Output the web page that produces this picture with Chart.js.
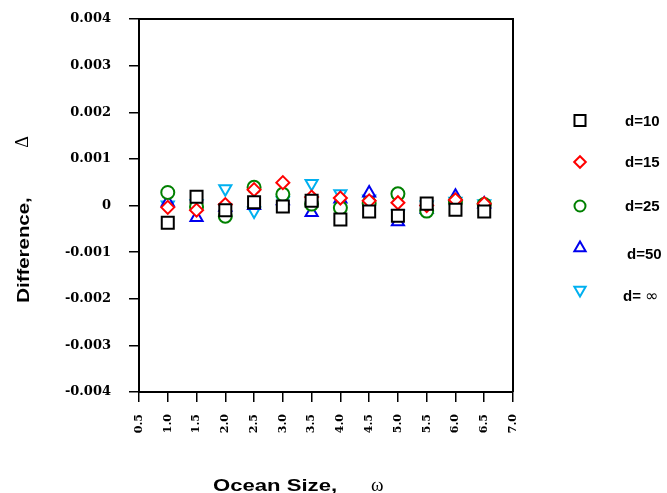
<!DOCTYPE html>
<html>
<head>
<meta charset="utf-8">
<script src="https://cdn.jsdelivr.net/npm/chart.js@4/dist/chart.umd.min.js"></script>
<style>
  html, body { margin: 0; padding: 0; background: #fff; }
  #wrap { width: 667px; height: 493px; }
</style>
</head>
<body>
<div id="wrap"><canvas id="c" width="667" height="493"></canvas></div>
<script>
// Ocean size (x) and difference values per depth series
const omega = [1.0, 1.5, 2.0, 2.5, 3.0, 3.5, 4.0, 4.5, 5.0, 5.5, 6.0, 6.5];
const d10  = [-0.00037, 0.00019, -0.00010, 0.00007, -0.00002, 0.00010, -0.00030, -0.00013, -0.00022, 0.00004, -0.00009, -0.00013];
const d15  = [-0.00004, -0.00010, 0.00002, 0.00034, 0.00049, 0.00018, 0.00016, 0.00010, 0.00006, 0.00000, 0.00012, 0.00004];
const d25  = [0.00028, -0.00003, -0.00023, 0.00039, 0.00024, 0.00003, -0.00005, 0.00005, 0.00025, -0.00012, 0.00008, 0.00002];
const d50  = [0.00007, -0.00026, -0.00004, 0.00000, 0.00010, -0.00015, 0.00014, 0.00027, -0.00035, -0.00008, 0.00020, 0.00003];
const dInf = [0.00001, 0.00004, 0.00036, -0.00012, 0.00010, 0.00047, 0.00025, 0.00014, -0.00018, 0.00001, 0.00009, 0.00004];

const seriesLabels = ['d=10', 'd=15', 'd=25', 'd=50', 'd= \u221E'];
const seriesData = [d10, d15, d25, d50, dInf];
const xTicks = { min: 0.5, max: 7.0, step: 0.5 };
const yTicks = { min: -0.004, max: 0.004, step: 0.001 };

const styles = [
  { color: '#000000', shape: 'rect',     r: 8.5, rot: 0 },
  { color: '#ff0000', shape: 'rectRot',  r: 6.5, rot: 0 },
  { color: '#008000', shape: 'circle',   r: 6.5, rot: 0 },
  { color: '#0000ee', shape: 'triangle', r: 7,   rot: 0 },
  { color: '#00b0f0', shape: 'triangle', r: 7,   rot: 180 }
];

const datasets = seriesData.map((vals, i) => ({
  label: seriesLabels[i],
  data: vals.map((v, j) => ({ x: omega[j], y: v })),
  pointStyle: styles[i].shape,
  pointRotation: styles[i].rot,
  pointRadius: styles[i].r,
  pointHoverRadius: styles[i].r,
  pointBorderWidth: 2,
  borderColor: styles[i].color,
  pointBorderColor: styles[i].color,
  pointBackgroundColor: '#ffffff',
  showLine: false
}));

// legend + titles + frame, drawn by hand
const decor = {
  id: 'decor',
  afterDraw(chart) {
    const ctx = chart.ctx, a = chart.chartArea;
    ctx.save();
    ctx.strokeStyle = '#000';
    ctx.lineWidth = 2;
    ctx.beginPath();
    ctx.moveTo(a.left, a.top);
    ctx.lineTo(a.right, a.top);
    ctx.lineTo(a.right, a.bottom);
    ctx.stroke();

    // legend
    const rows = [
      { my: 120.5, tx: 625, ty: 122 },
      { my: 162, tx: 625, ty: 163 },
      { my: 206, tx: 625, ty: 207 },
      { my: 248, tx: 627, ty: 255 },
      { my: 290, tx: 623, ty: 297 }
    ];
    const legR = [7.8, 5.8, 5.5, 6.5, 6.5];
    rows.forEach((row, i) => {
      ctx.strokeStyle = styles[i].color;
      ctx.fillStyle = '#fff';
      ctx.lineWidth = 2;
      Chart.helpers.drawPoint(ctx, {
        pointStyle: styles[i].shape, rotation: styles[i].rot,
        radius: legR[i], borderWidth: 2
      }, 580, row.my);
      ctx.fillStyle = '#000';
      ctx.textBaseline = 'middle';
      ctx.textAlign = 'left';
      ctx.font = 'bold 15px "Liberation Sans", Arial, sans-serif';
      if (i < 4) {
        ctx.fillText(seriesLabels[i], row.tx, row.ty);
      } else {
        ctx.fillText('d=', row.tx, row.ty);
        const w = ctx.measureText('d= ').width;
        ctx.font = '16px "DejaVu Sans", sans-serif';
        ctx.fillText('\u221E', row.tx + w, row.ty);
      }
    });

    // x title
    ctx.fillStyle = '#000';
    ctx.textAlign = 'left';
    ctx.textBaseline = 'alphabetic';
    ctx.save();
    ctx.translate(213, 491);
    ctx.scale(1.3, 1);
    ctx.font = 'bold 17px "Liberation Sans", Arial, sans-serif';
    ctx.fillText('Ocean Size,', 0, 0);
    ctx.restore();
    ctx.font = '19px "Liberation Serif", serif';
    ctx.fillText('\u03C9', 371, 491);

    // y title
    ctx.save();
    ctx.translate(29, 250);
    ctx.rotate(-Math.PI / 2);
    ctx.scale(1.2, 1);
    ctx.textAlign = 'center';
    ctx.font = 'bold 17px "Liberation Sans", Arial, sans-serif';
    ctx.fillText('Difference,', 0, 0);
    ctx.restore();
    ctx.save();
    ctx.translate(28, 142);
    ctx.rotate(-Math.PI / 2);
    ctx.textAlign = 'center';
    ctx.font = '18px "Liberation Serif", serif';
    ctx.fillText('\u0394', 0, 0);
    ctx.restore();
    ctx.restore();
  }
};

Chart.defaults.color = '#000';

new Chart(document.getElementById('c'), {
  type: 'scatter',
  data: { datasets },
  options: {
    responsive: false,
    animation: false,
    events: [],
    layout: { padding: { top: 19, right: 154, bottom: 0, left: 0 } },
    plugins: { legend: { display: false }, tooltip: { enabled: false } },
    scales: {
      x: {
        type: 'linear', min: xTicks.min, max: xTicks.max,
        afterFit: s => { s.height = 101; s.paddingLeft = 0; s.paddingRight = 0; },
        grid: { drawOnChartArea: false, drawTicks: true, tickLength: 10, color: '#000', lineWidth: 1.5 },
        border: { display: true, color: '#000', width: 2 },
        ticks: {
          stepSize: xTicks.step, minRotation: 90, maxRotation: 90, padding: 12, autoSkip: false,
          font: { family: '"DejaVu Serif", serif', weight: 'bold', size: 11 },
          callback: v => Number(v).toFixed(1)
        }
      },
      y: {
        type: 'linear', min: yTicks.min, max: yTicks.max,
        afterFit: s => { s.width = 139; s.paddingTop = 0; s.paddingBottom = 0; },
        grid: { drawOnChartArea: false, drawTicks: true, tickLength: 10, color: '#000', lineWidth: 1.5 },
        border: { display: true, color: '#000', width: 2 },
        ticks: {
          stepSize: yTicks.step, padding: 18, autoSkip: false,
          font: { family: '"DejaVu Serif", serif', weight: 'bold', size: 13 },
          callback: v => Math.abs(v) < 1e-9 ? '0' : Number(v).toFixed(3)
        }
      }
    }
  },
  plugins: [decor]
});
</script>
</body>
</html>
